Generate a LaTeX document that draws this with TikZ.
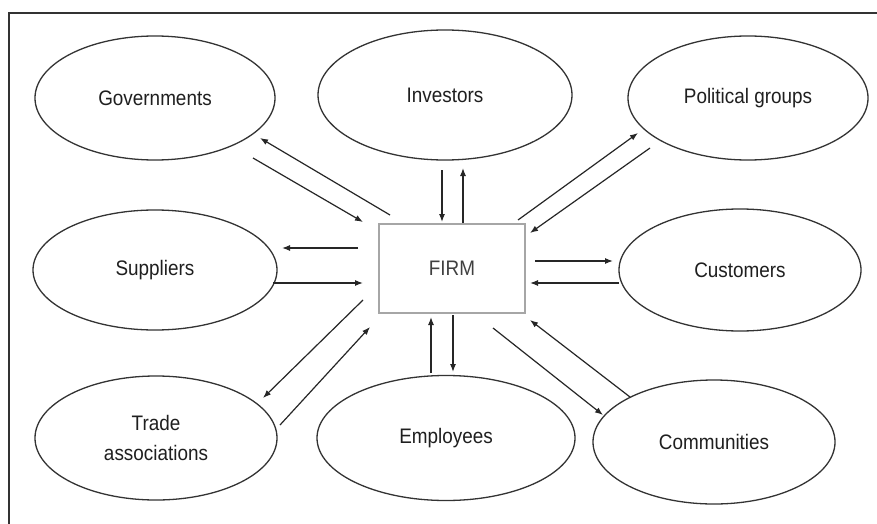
\documentclass[tikz,border=0pt]{standalone}
\usepackage{fontspec}
\setmainfont[FakeStretch=0.9]{Liberation Sans}
\usetikzlibrary{shapes.geometric,arrows.meta,calc}
\begin{document}
\begin{tikzpicture}[x=1pt,y=-1pt,
  ell/.style={ellipse,draw=black!80,line width=1.3pt,inner sep=0pt,
    font=\fontsize{21}{30}\selectfont,text=black!88,align=center},
  arr/.style={draw=black!85,line width=1.2pt,-{Latex[length=8pt,width=6pt]}},
  firmbox/.style={rectangle,draw=black!35,line width=2pt,minimum width=146pt,
    minimum height=89pt,inner sep=0pt,font=\fontsize{21}{26}\selectfont,text=black!75},
  frameline/.style={line width=2.5pt,draw=black!80}]
\useasboundingbox[fill=white] (0,0) rectangle (877,524);
\coordinate (fbl) at (9,524);
\coordinate (ftl) at (9,13);
\coordinate (ftr) at (877,13);
\draw[frameline] (fbl) -- (ftl) -- (ftr);

\node[firmbox] (firm) at (452,268.5) {FIRM};
\node[ell,minimum width=240pt,minimum height=124pt] (gov) at (155,98) {Governments};
\node[ell,minimum width=254pt,minimum height=130pt] (inv) at (445,95) {Investors};
\node[ell,minimum width=240pt,minimum height=124pt] (pol) at (748,98) {Political groups};
\node[ell,minimum width=244pt,minimum height=120pt] (sup) at (155,270) {Suppliers};
\node[ell,minimum width=242pt,minimum height=122pt] (cus) at (740,270) {Customers};
\node[ell,minimum width=242pt,minimum height=124pt] (tra) at (156,438) {Trade\\associations};
\node[ell,minimum width=258pt,minimum height=125pt] (emp) at (446,438) {Employees};
\node[ell,minimum width=242pt,minimum height=124pt] (com) at (714,442) {Communities};

% Investors
\draw[arr] ($(inv)+(-3,75)$) -- ($(firm)+(-10,-46.5)$);
\draw[arr] ($(firm)+(11,-45.5)$) -- ($(inv)+(18,73)$);
% Employees
\draw[arr] ($(emp)+(-15,-65)$) -- ($(firm)+(-21,48.5)$);
\draw[arr] ($(firm)+(1,46.5)$) -- ($(emp)+(7,-66)$);
% Governments
\draw[arr] ($(firm)+(-62,-53.5)$) -- ($(gov)+(105,40)$);
\draw[arr] ($(gov)+(98,60)$) -- ($(firm)+(-89,-46.5)$);
% Suppliers
\draw[arr] ($(firm)+(-94,-20.5)$) -- ($(sup)+(127,-22)$);
\draw[arr] ($(sup)+(118,13)$) -- ($(firm)+(-89,14.5)$);
% Customers
\draw[arr] ($(firm)+(83,-7.5)$) -- ($(cus)+(-127,-9)$);
\draw[arr] ($(cus)+(-121,13)$) -- ($(firm)+(78,14.5)$);
% Political groups
\draw[arr] ($(firm)+(66,-48.5)$) -- ($(pol)+(-110,35)$);
\draw[arr] ($(pol)+(-98,50)$) -- ($(firm)+(78,-35.5)$);
% Trade associations
\draw[arr] ($(firm)+(-89,31.5)$) -- ($(tra)+(107,-40)$);
\draw[arr] ($(tra)+(124,-13)$) -- ($(firm)+(-82,58.5)$);
% Communities
\draw[arr] ($(firm)+(41,59.5)$) -- ($(com)+(-111,-27)$);
\draw[arr] ($(com)+(-84,-45)$) -- ($(firm)+(78,51.5)$);
\end{tikzpicture}
\end{document}
